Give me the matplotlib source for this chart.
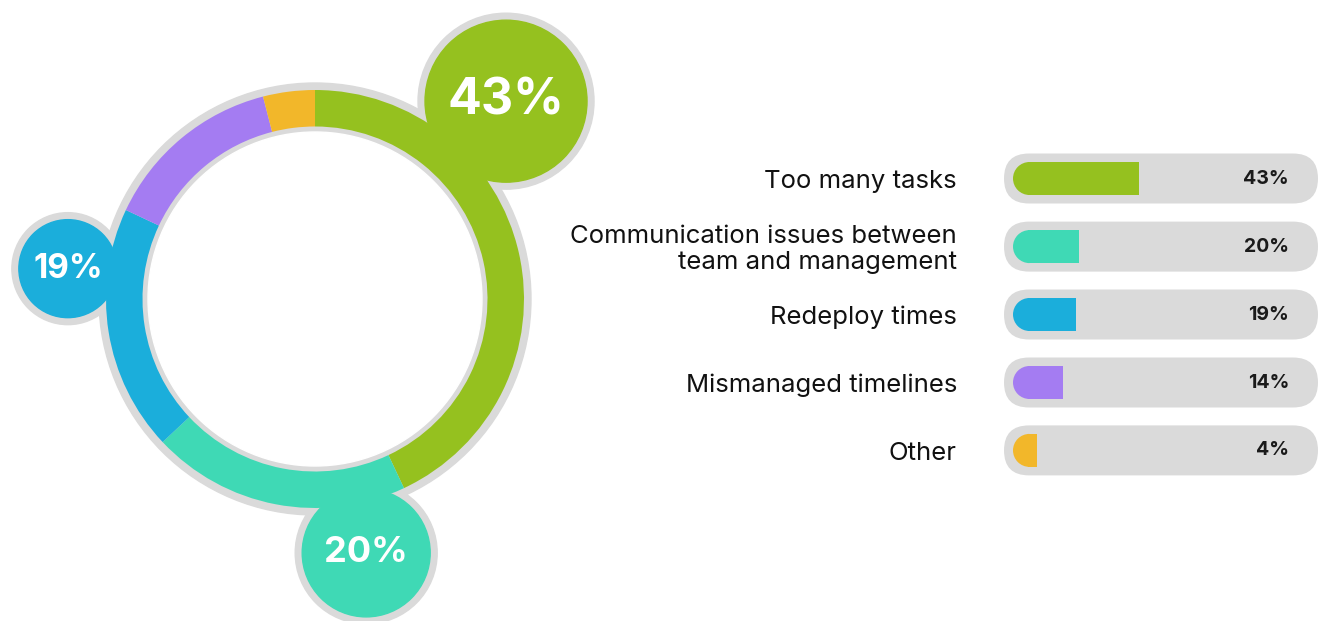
import numpy as np
import matplotlib.pyplot as plt
from matplotlib.patches import Circle, Wedge, Rectangle, FancyBboxPatch

# Survey results
categories = ['Too many tasks', 'Communication issues between\nteam and management',
              'Redeploy times', 'Mismanaged timelines', 'Other']
shares = [43, 20, 19, 14, 4]
colors = ['#95C11F', '#3FD9B5', '#1BAEDB', '#A47CF2', '#F2B72A']
bubble_idx = [0, 1, 2]           # which slices get a callout bubble
bubble_angle = [46, -78.6, 173]  # degrees, position of bubble around the ring
bubble_dist = [275, 259, 249]
bubble_r = [81, 64, 49]
bubble_fs = [36, 26, 24]

GRAY = '#DADADA'
H = 621

fig = plt.figure(figsize=(13.19, 6.21), dpi=100)
ax = fig.add_axes([0, 0, 1, 1])
plt.rcParams['font.family'] = ['Inter', 'DejaVu Sans']

def Y(py):
    return H - py

# --- donut ---
cx, cy = 315, Y(299)
r_out, r_in = 209, 172.5
ax.add_patch(Circle((cx, cy), 216, color=GRAY, zorder=1))
for i, a, d, r in zip(bubble_idx, bubble_angle, bubble_dist, bubble_r):
    bx = cx + d * np.cos(np.radians(a))
    by = cy + d * np.sin(np.radians(a))
    ax.add_patch(Circle((bx, by), r + 7, color=GRAY, zorder=1))
ax.add_patch(Circle((cx, cy), 167, color='white', zorder=2))

ax.pie(shares, colors=colors, radius=r_out, center=(cx, cy), startangle=90,
       counterclock=False, frame=True,
       wedgeprops=dict(width=r_out - r_in, linewidth=0, zorder=3))

for i, a, d, r, fs in zip(bubble_idx, bubble_angle, bubble_dist, bubble_r, bubble_fs):
    bx = cx + d * np.cos(np.radians(a))
    by = cy + d * np.sin(np.radians(a))
    ax.add_patch(Circle((bx, by), r, color=colors[i], zorder=4))
    ax.text(bx, by, f'{shares[i]}%', color='white', fontsize=fs, fontweight='bold',
            ha='center', va='center', zorder=5)

# --- bar list ---
row_y = [178.5, 246.6, 314.5, 382.5, 450.4]
x_zero, px_per_pct = 1027, 2.6
bar_h = 33
for cat, v, c, py in zip(categories, shares, colors, row_y):
    yc = Y(py)
    ax.add_patch(FancyBboxPatch((1004, yc - 25), 314, 50,
                                boxstyle='round,pad=0,rounding_size=25',
                                color=GRAY, lw=0, zorder=1))
    x_end = x_zero + v * px_per_pct
    x_mid = 1013 + bar_h / 2
    ax.add_patch(Wedge((x_mid, yc), bar_h / 2, 90, 270, color=c, lw=0, zorder=2))
    ax.add_patch(Rectangle((x_mid - 1.5, yc - bar_h / 2), x_end - x_mid + 1.5, bar_h,
                           color=c, lw=0, zorder=2))
    ax.text(1289, yc, f'{v}%', fontsize=14, fontweight='bold', color='#1a1a1a',
            ha='right', va='center', zorder=3)
    ax.text(957, yc - 3, cat, fontsize=18.5, color='#111111', ha='right', va='center',
            linespacing=1.2, zorder=3)

ax.set_xlim(0, 1319)
ax.set_ylim(0, H)
ax.set_aspect('equal')
ax.axis('off')
fig.savefig('out.png', dpi=100, facecolor='white')
